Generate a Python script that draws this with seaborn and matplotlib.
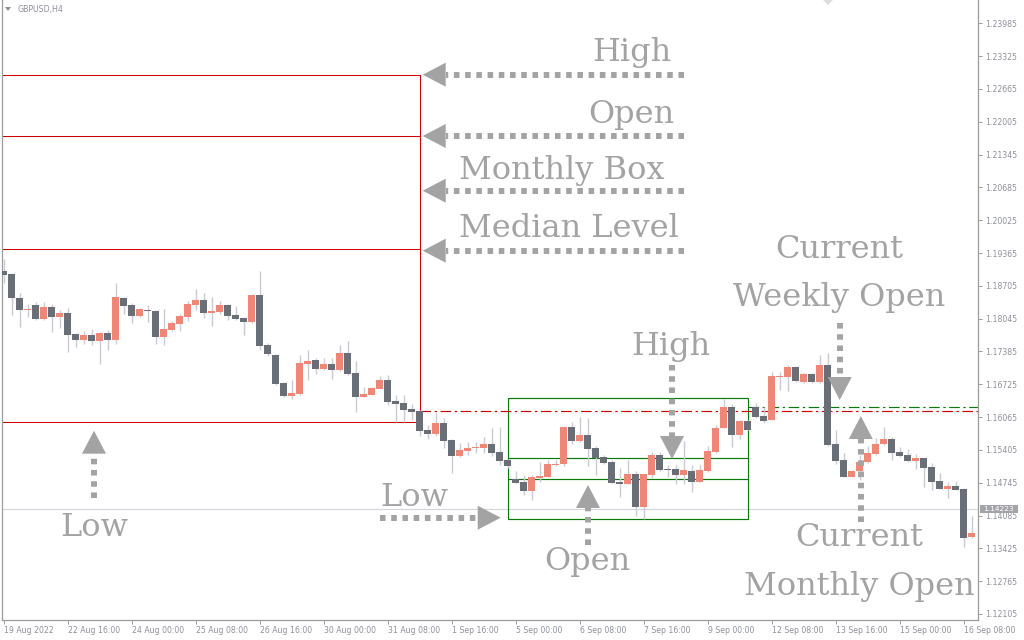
import matplotlib
matplotlib.use("Agg")
import matplotlib.pyplot as plt
from matplotlib import transforms
from matplotlib.patches import Polygon, Rectangle
from matplotlib.lines import Line2D
import numpy as np
import pandas as pd
import seaborn as sns

sns.set_theme(style="white")
plt.rcParams["font.family"] = ["DejaVu Sans"]

# ---------------------------------------------------------------- data
symbol = "GBPUSD,H4"

opens = [1.1900, 1.1895, 1.1846, 1.1822, 1.1832, 1.1804, 1.1828, 1.1808, 1.1816, 1.1774,
         1.1762, 1.1772, 1.1760, 1.1776, 1.1762, 1.1846, 1.1832, 1.1810, 1.1822, 1.1820,
         1.1768, 1.1782, 1.1794, 1.1808, 1.1832, 1.1842, 1.1816, 1.1818, 1.1832, 1.1812,
         1.1806, 1.1798, 1.1852, 1.1751, 1.1731, 1.1675, 1.1649, 1.1653, 1.1713, 1.1721,
         1.1703, 1.1713, 1.1701, 1.1735, 1.1695, 1.1647, 1.1651, 1.1663, 1.1681, 1.1639,
         1.1635, 1.1623, 1.1619, 1.1581, 1.1573, 1.1595, 1.1560, 1.1528, 1.1538, 1.1545,
         1.1544, 1.1552, 1.1536, 1.1520, 1.1482, 1.1476, 1.1458, 1.1484, 1.1486, 1.1510,
         1.1512, 1.1587, 1.1558, 1.1570, 1.1544, 1.1526, 1.1516, 1.1476, 1.1472, 1.1492,
         1.1426, 1.1490, 1.1530, 1.1502, 1.1502, 1.1490, 1.1498, 1.1476, 1.1498, 1.1536,
         1.1585, 1.1627, 1.1570, 1.1599, 1.1627, 1.1609, 1.1601, 1.1688, 1.1687, 1.1707,
         1.1677, 1.1693, 1.1677, 1.1711, 1.1552, 1.1520, 1.1486, 1.1498, 1.1516, 1.1532,
         1.1552, 1.1562, 1.1536, 1.1530, 1.1518, 1.1524, 1.1506, 1.1478, 1.1462, 1.1468,
         1.1462, 1.1365]
highs = [1.1924, 1.1897, 1.1857, 1.1834, 1.1837, 1.1837, 1.1834, 1.1822, 1.1826, 1.1776,
         1.1780, 1.1784, 1.1777, 1.1782, 1.1876, 1.1848, 1.1836, 1.1826, 1.1832, 1.1822,
         1.1824, 1.1800, 1.1814, 1.1840, 1.1864, 1.1856, 1.1848, 1.1840, 1.1834, 1.1830,
         1.1808, 1.1854, 1.1900, 1.1756, 1.1733, 1.1677, 1.1681, 1.1731, 1.1741, 1.1725,
         1.1725, 1.1725, 1.1751, 1.1760, 1.1719, 1.1667, 1.1667, 1.1689, 1.1691, 1.1651,
         1.1651, 1.1633, 1.1621, 1.1591, 1.1615, 1.1605, 1.1562, 1.1554, 1.1556, 1.1557,
         1.1566, 1.1585, 1.1587, 1.1522, 1.1498, 1.1490, 1.1490, 1.1516, 1.1520, 1.1520,
         1.1589, 1.1597, 1.1607, 1.1605, 1.1548, 1.1530, 1.1520, 1.1504, 1.1520, 1.1498,
         1.1493, 1.1536, 1.1536, 1.1510, 1.1510, 1.1558, 1.1510, 1.1510, 1.1548, 1.1591,
         1.1643, 1.1633, 1.1600, 1.1601, 1.1634, 1.1627, 1.1697, 1.1697, 1.1711, 1.1709,
         1.1695, 1.1695, 1.1731, 1.1735, 1.1581, 1.1534, 1.1500, 1.1530, 1.1548, 1.1564,
         1.1587, 1.1566, 1.1546, 1.1542, 1.1532, 1.1525, 1.1514, 1.1494, 1.1476, 1.1478,
         1.1463, 1.1408]
lows = [1.1877, 1.1812, 1.1788, 1.1808, 1.1802, 1.1802, 1.1778, 1.1786, 1.1738, 1.1747,
        1.1753, 1.1751, 1.1714, 1.1742, 1.1753, 1.1814, 1.1796, 1.1808, 1.1798, 1.1753,
        1.1751, 1.1780, 1.1780, 1.1800, 1.1822, 1.1806, 1.1790, 1.1814, 1.1802, 1.1802,
        1.1772, 1.1796, 1.1741, 1.1729, 1.1671, 1.1647, 1.1643, 1.1651, 1.1681, 1.1693,
        1.1701, 1.1683, 1.1700, 1.1692, 1.1617, 1.1646, 1.1650, 1.1662, 1.1631, 1.1597,
        1.1597, 1.1601, 1.1568, 1.1562, 1.1568, 1.1544, 1.1494, 1.1527, 1.1530, 1.1535,
        1.1534, 1.1528, 1.1510, 1.1504, 1.1473, 1.1450, 1.1440, 1.1476, 1.1485, 1.1508,
        1.1508, 1.1552, 1.1557, 1.1508, 1.1490, 1.1512, 1.1473, 1.1446, 1.1471, 1.1408,
        1.1402, 1.1484, 1.1499, 1.1486, 1.1472, 1.1472, 1.1456, 1.1475, 1.1497, 1.1535,
        1.1584, 1.1546, 1.1562, 1.1580, 1.1605, 1.1595, 1.1600, 1.1660, 1.1659, 1.1678,
        1.1676, 1.1676, 1.1676, 1.1548, 1.1512, 1.1485, 1.1485, 1.1480, 1.1515, 1.1530,
        1.1551, 1.1520, 1.1527, 1.1517, 1.1502, 1.1466, 1.1460, 1.1461, 1.1444, 1.1459,
        1.1345, 1.1364]
closes = [1.1893, 1.1845, 1.1822, 1.1824, 1.1804, 1.1828, 1.1808, 1.1816, 1.1772, 1.1762,
          1.1772, 1.1760, 1.1776, 1.1762, 1.1848, 1.1830, 1.1810, 1.1824, 1.1820, 1.1768,
          1.1784, 1.1796, 1.1810, 1.1834, 1.1842, 1.1816, 1.1820, 1.1832, 1.1810, 1.1804,
          1.1798, 1.1852, 1.1749, 1.1733, 1.1673, 1.1649, 1.1655, 1.1715, 1.1719, 1.1703,
          1.1713, 1.1701, 1.1735, 1.1693, 1.1647, 1.1653, 1.1665, 1.1681, 1.1637, 1.1633,
          1.1621, 1.1617, 1.1579, 1.1573, 1.1595, 1.1558, 1.1528, 1.1540, 1.1544, 1.1547,
          1.1552, 1.1534, 1.1518, 1.1508, 1.1474, 1.1458, 1.1486, 1.1488, 1.1512, 1.1512,
          1.1587, 1.1558, 1.1570, 1.1542, 1.1524, 1.1514, 1.1474, 1.1472, 1.1492, 1.1426,
          1.1492, 1.1530, 1.1500, 1.1500, 1.1490, 1.1500, 1.1476, 1.1500, 1.1538, 1.1585,
          1.1627, 1.1570, 1.1599, 1.1581, 1.1607, 1.1599, 1.1689, 1.1690, 1.1707, 1.1679,
          1.1693, 1.1677, 1.1711, 1.1550, 1.1518, 1.1486, 1.1498, 1.1516, 1.1534, 1.1552,
          1.1562, 1.1534, 1.1528, 1.1518, 1.1524, 1.1504, 1.1476, 1.1462, 1.1468, 1.1460,
          1.1363, 1.1373]

time_label_bars = [0, 8, 16, 24, 32, 40, 48, 56, 64, 72, 80, 88, 96, 104, 112, 120]
time_labels = ["19 Aug 2022", "22 Aug 16:00", "24 Aug 00:00", "25 Aug 08:00",
               "26 Aug 16:00", "30 Aug 00:00", "31 Aug 08:00", "1 Sep 16:00",
               "5 Sep 00:00", "6 Sep 08:00", "7 Sep 16:00", "9 Sep 00:00",
               "12 Sep 08:00", "13 Sep 16:00", "15 Sep 00:00", "16 Sep 08:00"]
price_ticks = [1.23985, 1.23325, 1.22665, 1.22005, 1.21345, 1.20685, 1.20025,
               1.19365, 1.18705, 1.18045, 1.17385, 1.16725, 1.16065, 1.15405,
               1.14745, 1.14085, 1.13425, 1.12765, 1.12105]
bid_price = 1.14223

# previous month (August) box
month_high = 1.22939
month_open = 1.21724
month_low = 1.15960
month_end_bar = 52
# previous week box
week_high = 1.16449
week_open = 1.14813
week_low = 1.14015
week_start_bar = 63
week_end_bar = 93
# current opens
current_month_open = 1.16187
current_week_open = 1.16262

# ---------------------------------------------------------------- figure
W, H = 1024, 640
fig = plt.figure(figsize=(W / 100, H / 100), dpi=100)
fig.patch.set_facecolor("white")
ax = fig.add_axes([2 / W, (H - 620) / H, 976 / W, 620 / H])
ax.set_facecolor("white")

n = len(opens)
bars = pd.DataFrame({"bar": np.arange(n), "open": opens, "high": highs,
                     "low": lows, "close": closes})
bars["up"] = bars["close"] >= bars["open"]

BEAR = "#6a6e77"
BULL = "#ef8676"
WICK = "#c9cad3"
RED = "#cc0000"
GREEN = "#0a7a0a"
ANN = "#a3a3a3"
XLIM = (-0.2125, 121.7875)
YLIM = (1.119836, 1.244536)

# wicks
ax.vlines(bars["bar"], bars["low"], bars["high"], color=WICK, lw=1.0, zorder=3)
# bodies
body_lo = np.minimum(bars["open"], bars["close"])
body_h = np.maximum(np.abs(bars["close"] - bars["open"]), 0.00016)
ax.bar(bars["bar"], body_h, bottom=body_lo, width=0.84,
       color=np.where(bars["up"], BULL, BEAR), linewidth=0, zorder=4)

# bid line
ax.axhline(bid_price, color="#d4d4dc", lw=0.8, zorder=1)

# previous month box (red)
for lvl in (month_high, month_open, (month_high + month_low) / 2, month_low):
    ax.plot([-1, month_end_bar], [lvl, lvl], color=RED, lw=0.75, zorder=2)
ax.plot([month_end_bar, month_end_bar], [month_low, month_high], color=RED, lw=0.75, zorder=2)

# previous week box (green)
wk_mid = (week_high + week_low) / 2
for lvl in (week_open, wk_mid):
    ax.plot([week_start_bar, week_end_bar], [lvl, lvl], color=GREEN, lw=0.85, zorder=2)
ax.add_patch(Rectangle((week_start_bar, week_low), week_end_bar - week_start_bar,
                       week_high - week_low, fill=False, edgecolor=GREEN, lw=0.85, zorder=2))

# current month / week open lines
dashdot = (0, (9, 3, 2, 3))
cm = pd.DataFrame({"bar": [month_end_bar, 125], "price": [current_month_open] * 2})
cw = pd.DataFrame({"bar": [week_end_bar, 125], "price": [current_week_open] * 2})
sns.lineplot(data=cm, x="bar", y="price", ax=ax, color=RED, lw=0.85, linestyle=dashdot, zorder=2)
sns.lineplot(data=cw, x="bar", y="price", ax=ax, color=GREEN, lw=0.85, linestyle=dashdot, zorder=2)
ax.set_xlim(*XLIM)
ax.set_ylim(*YLIM)
ax.set_xlabel("")
ax.set_ylabel("")

# axes frame and ticks
for side in ("left", "right", "bottom"):
    ax.spines[side].set_visible(True)
    ax.spines[side].set_color("#9c9c9c")
    ax.spines[side].set_linewidth(0.9)
ax.spines["top"].set_visible(False)
ax.yaxis.tick_right()
ax.set_yticks(price_ticks)
ax.set_yticklabels([f"{p:.5f}" for p in price_ticks])
ax.set_xticks(time_label_bars)
ax.set_xticklabels(time_labels, ha="left")
ax.tick_params(axis="y", which="both", right=True, left=False, direction="out",
               length=3, width=0.7, color="#9c9c9c", labelcolor="#8e909b",
               labelsize=5.6, pad=2.0)
ax.tick_params(axis="x", which="both", bottom=True, direction="out",
               length=3, width=0.7, color="#9c9c9c", labelcolor="#8e909b",
               labelsize=5.6, pad=1.5)
ax.grid(False)

# pixel-space transform for annotations (origin top-left)
px = transforms.Affine2D().scale(1, -1).translate(0, H)

# bid price tag
fig.add_artist(Rectangle((980, 504.8), 38, 8.2, transform=px, facecolor="#a3a3aa",
                         edgecolor="none", zorder=10))
fig.text(999, 509, f"{bid_price:.5f}", transform=px, ha="center", va="center",
         color="white", fontsize=5.4, zorder=11)

# symbol caption
fig.add_artist(Polygon([(5, 7), (11, 7), (8, 11)], closed=True, transform=px,
                       facecolor="#8e909b", edgecolor="none", zorder=10))
fig.text(18, 9.5, symbol, transform=px, ha="left", va="center",
         color="#8e909b", fontsize=5.7, zorder=10)
# chart shift marker
fig.add_artist(Polygon([(823, 0), (833, 0), (828, 5)], closed=True, transform=px,
                       facecolor="#dcdcdc", edgecolor="none", zorder=10))


def arrow(x0, y0, x1, y1, head_len=23, head_half=12):
    """Dotted arrow from (x0, y0) to tip (x1, y1) in pixel space."""
    d = np.array([x1 - x0, y1 - y0], float)
    L = np.hypot(*d)
    u = d / L
    base = np.array([x1, y1]) - u * head_len
    nrm = np.array([-u[1], u[0]])
    fig.add_artist(Line2D([x0, base[0]], [y0, base[1]], transform=px, color=ANN,
                          lw=4.3, linestyle=(0, (0.93, 0.95)), dash_capstyle="butt",
                          zorder=12))
    tri = [tuple(base + nrm * head_half), tuple(base - nrm * head_half), (x1, y1)]
    fig.add_artist(Polygon(tri, closed=True, transform=px, facecolor=ANN,
                           edgecolor="none", zorder=12))


# left-pointing labels at the monthly box
arrow(684, 74.7, 422.7, 74.7)
arrow(684, 136, 422.7, 136)
arrow(684, 190.7, 422.7, 190.7)
arrow(684, 250.7, 422.7, 250.7)
# low markers
arrow(94, 498, 94, 430.7)
arrow(380, 517.7, 500.7, 517.7)
# weekly box
arrow(672, 365, 672, 459)
arrow(588, 545, 588, 485)
# current opens
arrow(839.7, 323, 839.7, 400)
arrow(860.8, 522, 860.8, 416)

serif = ["DejaVu Serif"]
labels = [
    ("High", 632, 61.5),
    ("Open", 631, 123.3),
    ("Monthly Box", 562, 179),
    ("Median Level", 569, 236.7),
    ("Current", 839, 258),
    ("Weekly Open", 839, 306),
    ("High", 671, 355),
    ("Low", 94, 536),
    ("Low", 414, 506),
    ("Open", 587, 570),
    ("Current", 859, 546),
    ("Monthly Open", 859, 595),
]
for s, x, y in labels:
    fig.text(x, y, s, transform=px, ha="center", va="baseline", color=ANN,
             fontsize=23, family=serif, zorder=13)

fig.savefig("out.png", dpi=100, facecolor="white")
